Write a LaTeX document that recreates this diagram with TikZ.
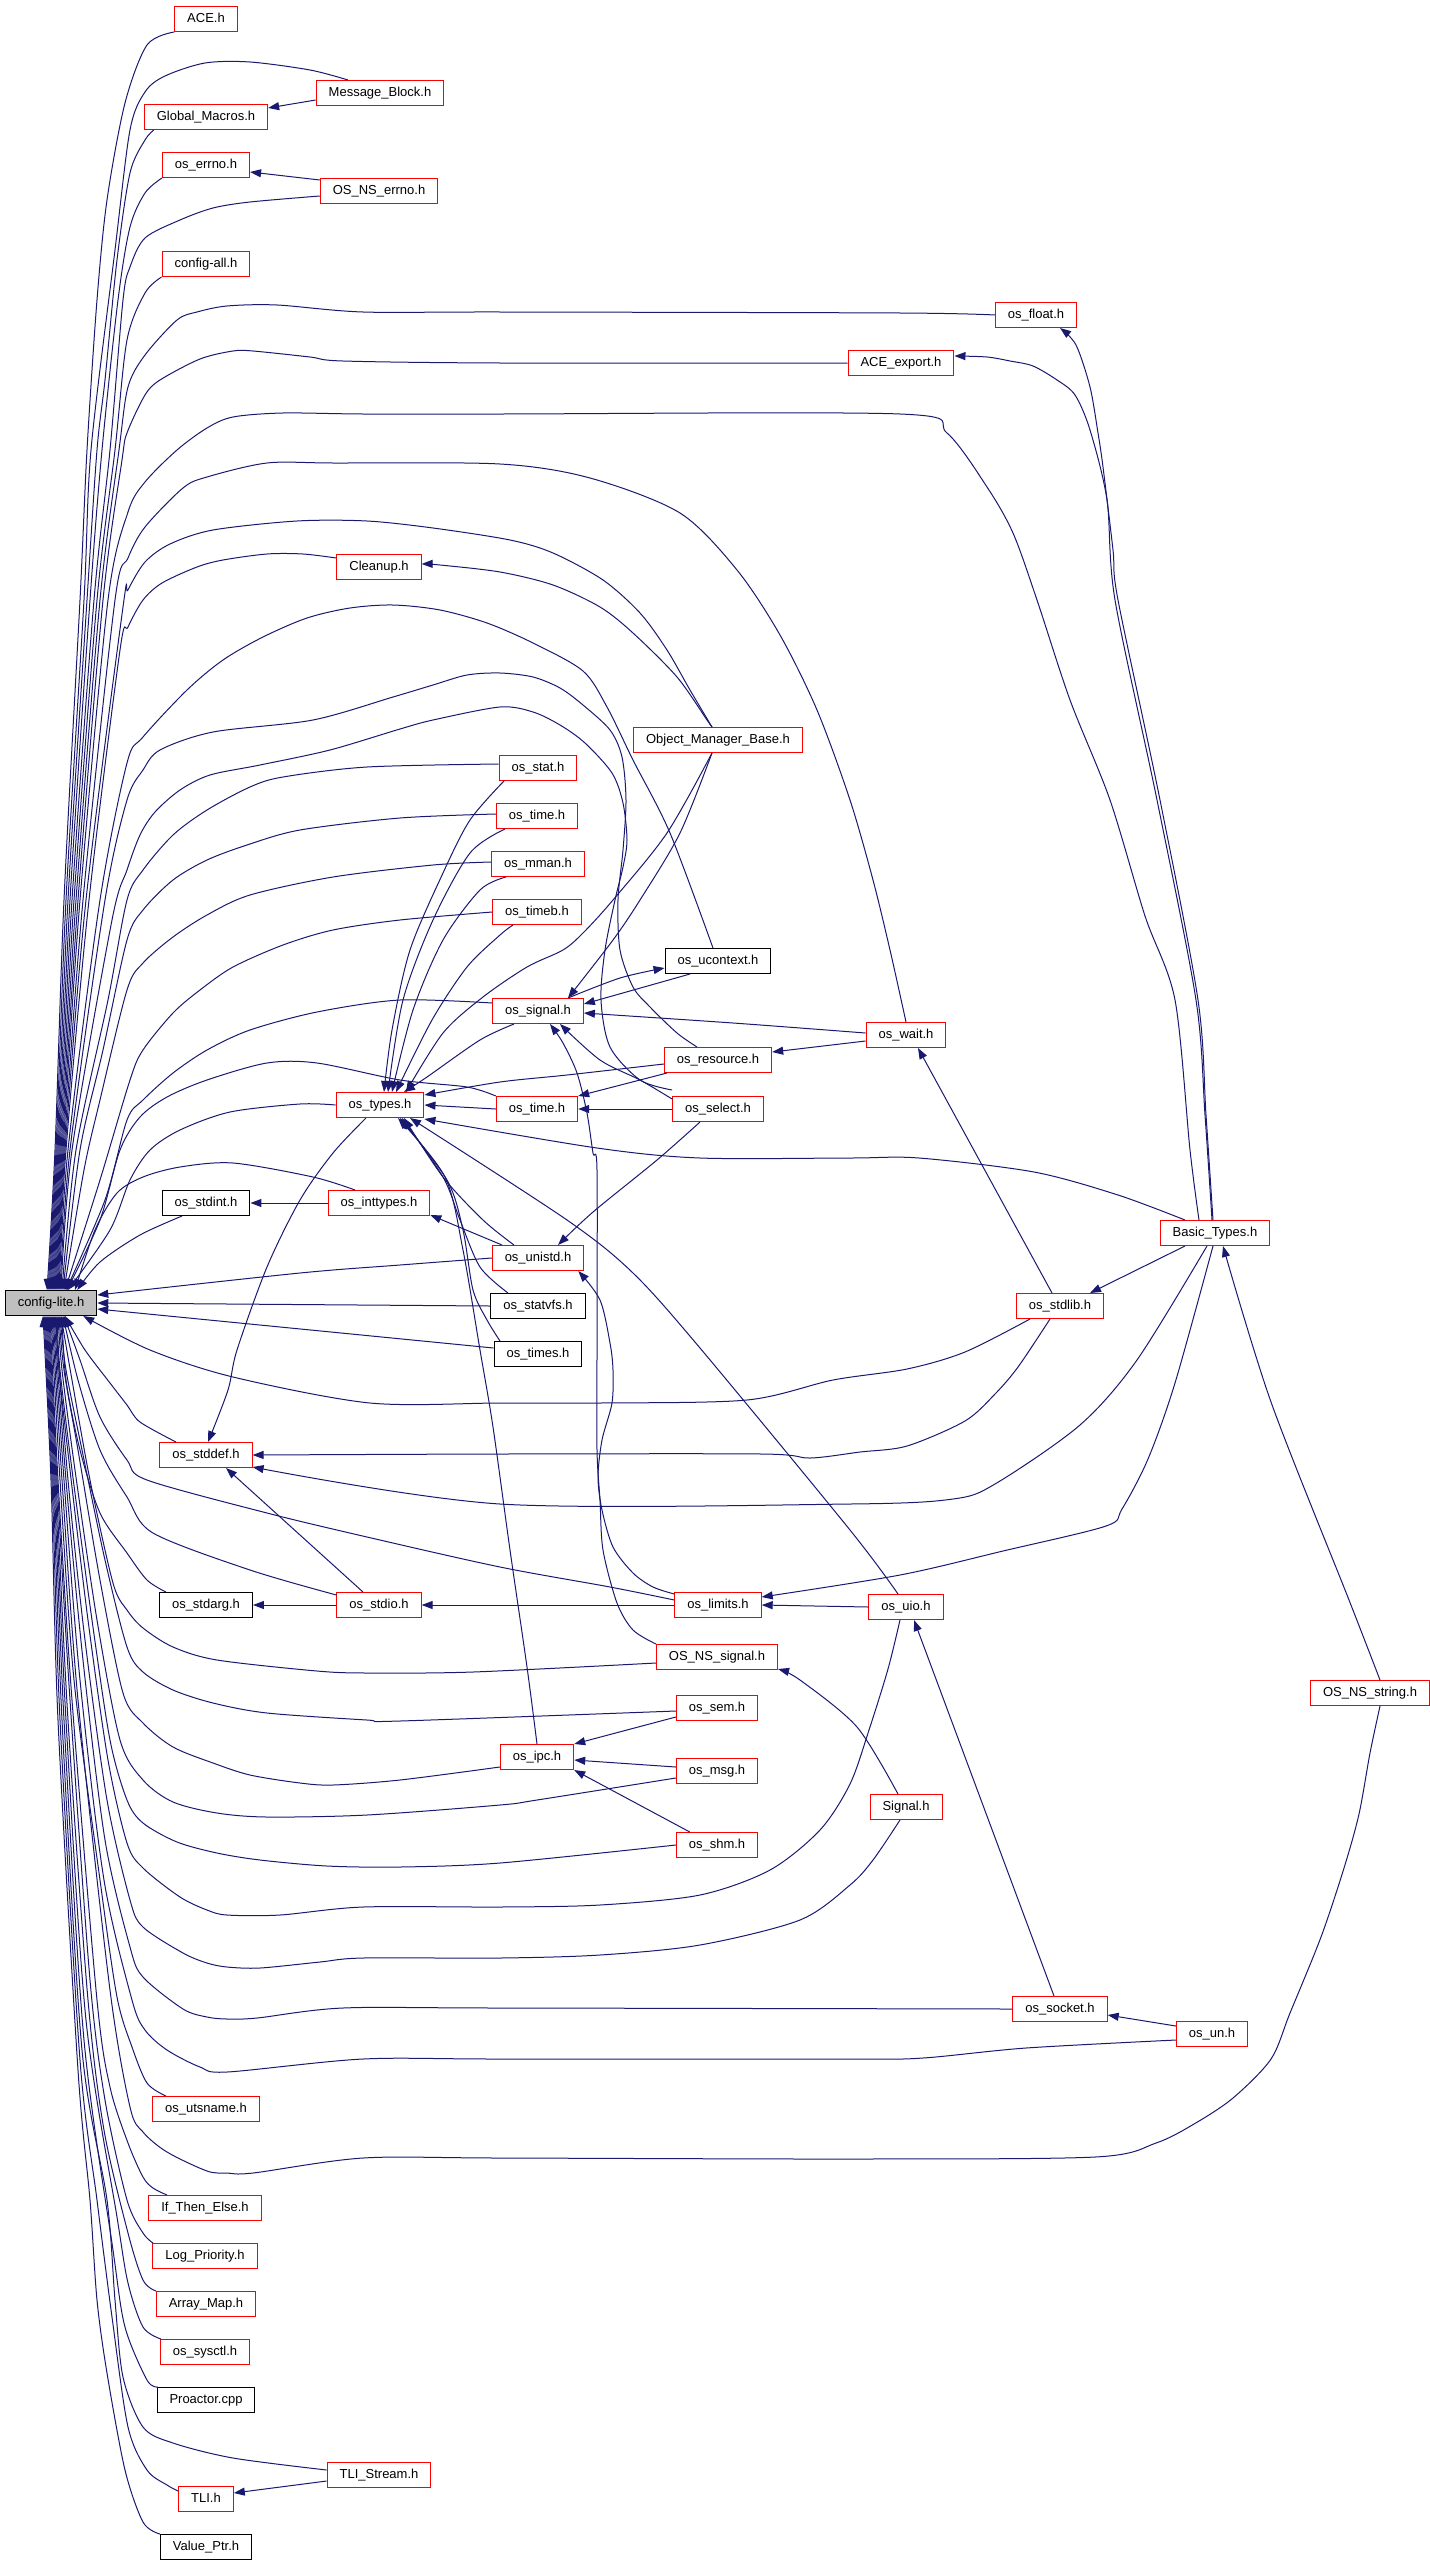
\documentclass[tikz,border=0pt]{standalone}
\usepackage{fontspec}
\setmainfont{Liberation Sans}
\usetikzlibrary{positioning,arrows.meta}

\definecolor{depblue}{HTML}{191970}
\definecolor{cfggray}{HTML}{BFBFBF}

\begin{document}
\begin{tikzpicture}[x=0.5pt,y=-0.5pt]
\useasboundingbox (0,0) rectangle (1429,2563);
% Draw include graph of config-lite.h
   \begin{scope}[>={Triangle[length=5.5pt,width=4pt]},
                  file/.style={rectangle,draw=red,line width=0.5pt,minimum height=12.5pt,
                     inner xsep=6.25pt,inner ysep=0pt,font=\fontsize{6.5}{7}\selectfont,
                     text height=4.9pt,text depth=1.4pt},
                  sysfile/.style={file,draw=black},
                  here/.style={file,draw=black,fill=cfggray},
                  dep/.style={->,draw=depblue,line width=0.5pt} ]
     \node [here]    (cfg)        at (51,1303)  {config-lite.h};
     \node [file]    (ace)        at (206,19)   {ACE.h};
     \node [file]    (msgblock)   at (380,93)   {Message\_Block.h};
     \node [file]    (globmacros) at (206,117)  {Global\_Macros.h};
     \node [file]    (errno)      at (206,165)  {os\_errno.h};
     \node [file]    (nserrno)    at (379,191)  {OS\_NS\_errno.h};
     \node [file]    (cfgall)     at (206,264)  {config-all.h};
     \node [file]    (float)      at (1036,315) {os\_float.h};
     \node [file]    (aceexport)  at (901,363)  {ACE\_export.h};
     \node [file]    (cleanup)    at (379,567)  {Cleanup.h};
     \node [file]    (omb)        at (718,740)  {Object\_Manager\_Base.h};
     \node [file]    (stat)       at (538,768)  {os\_stat.h};
     \node [file]    (time)       at (537,816)  {os\_time.h};
     \node [file]    (mman)       at (538,864)  {os\_mman.h};
     \node [file]    (timeb)      at (537,912)  {os\_timeb.h};
     \node [sysfile] (ucontext)   at (718,961)  {os\_ucontext.h};
     \node [file]    (signal)     at (538,1011) {os\_signal.h};
     \node [file]    (wait)       at (906,1035) {os\_wait.h};
     \node [file]    (resource)   at (718,1060) {os\_resource.h};
     \node [file]    (types)      at (380,1105) {os\_types.h};
     \node [file]    (time2)      at (537,1109) {os\_time.h};
     \node [file]    (select)     at (718,1109) {os\_select.h};
     \node [sysfile] (stdint)     at (206,1203) {os\_stdint.h};
     \node [file]    (inttypes)   at (379,1203) {os\_inttypes.h};
     \node [file]    (basic)      at (1215,1233) {Basic\_Types.h};
     \node [file]    (unistd)     at (538,1258) {os\_unistd.h};
     \node [file]    (stdlib)     at (1060,1306) {os\_stdlib.h};
     \node [sysfile] (statvfs)    at (538,1306) {os\_statvfs.h};
     \node [sysfile] (times)      at (538,1354) {os\_times.h};
     \node [file]    (stddef)     at (206,1455) {os\_stddef.h};
     \node [sysfile] (stdarg)     at (206,1605) {os\_stdarg.h};
     \node [file]    (stdio)      at (379,1605) {os\_stdio.h};
     \node [file]    (limits)     at (718,1605) {os\_limits.h};
     \node [file]    (uio)        at (906,1607) {os\_uio.h};
     \node [file]    (nssignal)   at (717,1657) {OS\_NS\_signal.h};
     \node [file]    (nsstring)   at (1370,1693) {OS\_NS\_string.h};
     \node [file]    (sem)        at (717,1708) {os\_sem.h};
     \node [file]    (ipc)        at (537,1757) {os\_ipc.h};
     \node [file]    (msg)        at (717,1771) {os\_msg.h};
     \node [file]    (sigh)       at (906,1807) {Signal.h};
     \node [file]    (shm)        at (717,1845) {os\_shm.h};
     \node [file]    (socket)     at (1060,2009) {os\_socket.h};
     \node [file]    (un)         at (1212,2034) {os\_un.h};
     \node [file]    (utsname)    at (206,2109) {os\_utsname.h};
     \node [file]    (ifte)       at (205,2208) {If\_Then\_Else.h};
     \node [file]    (logprio)    at (205,2256) {Log\_Priority.h};
     \node [file]    (arraymap)   at (206,2304) {Array\_Map.h};
     \node [file]    (sysctl)     at (205,2352) {os\_sysctl.h};
     \node [sysfile] (proactor)   at (206,2400) {Proactor.cpp};
     \node [file]    (tlistream)  at (379,2475) {TLI\_Stream.h};
     \node [file]    (tli)        at (206,2499) {TLI.h};
     \node [sysfile] (valueptr)   at (206,2547) {Value\_Ptr.h};

     % into config-lite.h from above
     \draw [dep] plot[smooth] coordinates {(ace.south west) (147,45) (125,103) (107,200) (97,300) (87,450) (80,600) (64,900) (55,1150) ([xshift=-2pt]cfg.north)};
     \draw [dep] plot[smooth] coordinates {([xshift=-16pt]msgblock.north) (310,70) (250,62) (205,63) (165,76) (145,92) (130,130) (115,250) (91,450) (84,600) (66,900) (56,1150) ([xshift=-1.5pt]cfg.north)};
     \draw [dep] plot[smooth] coordinates {([xshift=5pt]globmacros.south west) (145,140) (130,173) (117,260) (105,380) (97,450) (87,600) (68,900) (57,1150) ([xshift=-1pt]cfg.north)};
     \draw [dep] plot[smooth] coordinates {(errno.south west) (145,193) (130,227) (118,300) (102,450) (90,600) (70,900) (58,1150) ([xshift=-0.5pt]cfg.north)};
     \draw [dep] plot[smooth] coordinates {([yshift=-2.5pt]nserrno.west) (250,202) (213,208) (180,220) (145,238) (130,267) (123,300) (110,450) (94,600) (72,900) (59,1150) (cfg.north)};
     \draw [dep] plot[smooth] coordinates {(cfgall.south west) (145,293) (127,340) (115,450) (97,600) (74,900) (60,1150) ([xshift=0.5pt]cfg.north)};
     \draw [dep] plot[smooth] coordinates {(float.west) (900,313) (500,312) (363,312) (277,305) (227,306) (197,312) (177,320) (145,355) (128,387) (119,450) (100,600) (76,900) (61,1150) ([xshift=1pt]cfg.north)};
     \draw [dep] plot[smooth] coordinates {(aceexport.west) (500,363) (343,361) (310,357) (253,351) (233,351) (200,359) (160,380) (145,395) (127,433) (122,460) (103,600) (78,900) (62,1150) ([xshift=1.5pt]cfg.north)};
     \draw [dep] plot[smooth] coordinates {([xshift=-8pt]basic.north) (1190,1150) (1175,1000) (1145,916) (1110,800) (1070,700) (1037,600) (1013,533) (987,487) (947,433) (900,414) (500,414) (363,414) (283,413) (233,417) (207,428) (177,450) (145,482) (128,512) (108,600) (80,900) (63,1150) ([xshift=2pt]cfg.north)};
     \draw [dep] plot[smooth] coordinates {(wait.north) (890,950) (873,880) (850,800) (817,710) (780,635) (737,570) (680,513) (590,478) (500,464) (333,463) (267,463) (207,477) (183,488) (145,527) (128,558) (115,600) (83,900) (64,1150) ([xshift=2.5pt]cfg.north)};
     \draw [dep] plot[smooth] coordinates {([xshift=-3pt]omb.north) (690,690) (667,650) (640,613) (603,580) (553,553) (510,540) (433,528) (367,521) (297,521) (213,530) (170,544) (145,562) (128,590) (123,607) (86,900) (65,1150) ([xshift=3pt]cfg.north)};
     \draw [dep] plot[smooth] coordinates {([yshift=4.5pt]cleanup.west) (303,554) (267,554) (223,560) (197,567) (162,583) (143,600) (128,627) (120,650) (89,900) (66,1150) ([xshift=3.5pt]cfg.north)};
     \draw [dep] plot[smooth] coordinates {([xshift=-2.5pt]ucontext.north) (670,833) (633,760) (607,707) (583,671) (533,643) (487,623) (440,610) (393,605) (350,608) (307,618) (263,637) (223,660) (187,690) (143,737) (127,763) (100,900) (68,1150) ([xshift=4pt]cfg.north)};
     \draw [dep] plot[smooth] coordinates {([xshift=-10.5pt]resource.north) (677,1033) (650,1007) (633,987) (620,950) (618,900) (623,850) (626,800) (622,757) (610,730) (583,705) (560,688) (533,677) (500,673) (467,675) (433,685) (393,697) (313,720) (213,732) (160,750) (143,770) (127,800) (105,900) (70,1150) ([xshift=4.5pt]cfg.north)};
     \draw [dep] plot[smooth] coordinates {([yshift=3pt]select.north west) (640,1080) (610,1047) (601,1000) (605,950) (615,900) (623,867) (627,840) (623,803) (612,773) (585,743) (560,725) (533,712) (500,707) (433,720) (400,729) (330,750) (260,765) (210,775) (180,790) (155,812) (140,835) (127,870) (112,920) (72,1150) ([xshift=5pt]cfg.north)};
     \draw [dep] plot[smooth] coordinates {([yshift=2pt]stat.west) (367,767) (283,777) (250,787) (207,810) (173,835) (143,870) (127,900) (108,1000) (76,1150) ([xshift=5.5pt]cfg.north)};
     \draw [dep] plot[smooth] coordinates {([yshift=1pt]time.west) (400,818) (300,830) (247,845) (207,860) (173,880) (143,910) (127,940) (103,1050) (80,1150) ([xshift=6pt]cfg.north)};
     \draw [dep] plot[smooth] coordinates {([yshift=1pt]mman.west) (433,865) (333,877) (250,895) (207,915) (173,937) (143,963) (127,990) (100,1100) (84,1170) ([xshift=6.5pt]cfg.north)};
     \draw [dep] plot[smooth] coordinates {(timeb.west) (400,920) (333,930) (283,945) (233,967) (200,990) (173,1013) (143,1050) (130,1080) (100,1180) ([xshift=7pt]cfg.north)};
     \draw [dep] plot[smooth] coordinates {([yshift=4pt]signal.west) (400,1000) (317,1012) (250,1030) (207,1050) (173,1073) (143,1100) (127,1120) (105,1200) ([xshift=7.5pt]cfg.north)};
     \draw [dep] plot[smooth] coordinates {(time2.north west) (467,1087) (400,1080) (317,1063) (267,1063) (207,1080) (167,1097) (140,1117) (120,1150) (100,1220) ([xshift=8pt]cfg.north)};
     \draw [dep] plot[smooth] coordinates {(types.west) (300,1104) (230,1112) (180,1130) (150,1150) (130,1180) (110,1230) ([xshift=8.5pt]cfg.north)};
     \draw [dep] plot[smooth] coordinates {([xshift=-12pt]inttypes.north) (313,1177) (233,1163) (180,1167) (143,1177) (117,1193) (95,1230) ([xshift=12pt]cfg.north)};
     \draw [dep] plot[smooth] coordinates {([xshift=-12pt]stdint.south) (140,1235) (100,1262) ([xshift=-10pt]cfg.north east)};
     % into config-lite.h from the right
     \draw [dep] plot[smooth] coordinates {(unistd.west) (400,1265) (300,1273) ([yshift=4pt]cfg.east)};
     \draw [dep] (statvfs.west) -- (cfg.east);
     \draw [dep] ([yshift=3pt]times.west) -- ([yshift=-3pt]cfg.east);
     \draw [dep] plot[smooth] coordinates {([xshift=-15pt]stdlib.south) (965,1352) (907,1369) (833,1380) (747,1400) (600,1403) (500,1403) (370,1403) (233,1377) (150,1350) ([xshift=-7pt]cfg.south east)};
     % into config-lite.h from below
     \draw [dep] plot[smooth] coordinates {([xshift=-15pt]stddef.north) (140,1422) (127,1405) (110,1383) (85,1350) ([xshift=7pt]cfg.south)};
     \draw [dep] plot[smooth] coordinates {([yshift=-4pt]limits.north west) (610,1587) (500,1567) (367,1537) (267,1513) (147,1480) (127,1460) (100,1417) (80,1360) ([xshift=6.5pt]cfg.south)};
     \draw [dep] plot[smooth] coordinates {([yshift=-1.5pt]stdio.north west) (250,1570) (153,1533) (127,1497) (100,1450) (78,1380) ([xshift=6pt]cfg.south)};
     \draw [dep] plot[smooth] coordinates {([xshift=-20pt]stdarg.north) (147,1580) (127,1553) (100,1513) (80,1450) (66,1380) ([xshift=5.5pt]cfg.south)};
     \draw [dep] plot[smooth] coordinates {([yshift=-3pt]nssignal.west) (473,1672) (367,1673) (317,1671) (217,1660) (173,1647) (143,1628) (127,1610) (113,1583) (90,1480) (72,1380) ([xshift=5pt]cfg.south)};
     \draw [dep] plot[smooth] coordinates {([yshift=-1.5pt]sem.west) (400,1721) (367,1720) (267,1713) (213,1703) (173,1690) (143,1672) (127,1647) (105,1560) (82,1450) (66,1370) ([xshift=4.5pt]cfg.south)};
     \draw [dep] plot[smooth] coordinates {([yshift=-5pt]ipc.west) (400,1780) (333,1785) (300,1783) (250,1775) (213,1763) (173,1747) (143,1723) (123,1693) (100,1580) (78,1450) (64,1370) ([xshift=4pt]cfg.south)};
     \draw [dep] plot[smooth] coordinates {([yshift=-3.5pt]msg.west) (537,1800) (500,1805) (367,1815) (267,1817) (217,1813) (173,1802) (143,1780) (120,1740) (97,1620) (75,1470) (62,1370) ([xshift=3.5pt]cfg.south)};
     \draw [dep] plot[smooth] coordinates {(shm.west) (500,1863) (400,1867) (327,1866) (260,1860) (217,1853) (177,1842) (143,1823) (127,1800) (110,1740) (92,1620) (72,1470) (60,1370) ([xshift=3pt]cfg.south)};
     \draw [dep] plot[smooth] coordinates {([xshift=-3pt]uio.south) (888,1669) (869,1730) (850,1784) (820,1830) (770,1870) (700,1895) (600,1905) (500,1907) (363,1907) (280,1915) (227,1915) (207,1910) (180,1897) (143,1868) (127,1843) (108,1760) (88,1620) (70,1470) (59,1370) ([xshift=2.5pt]cfg.south)};
     \draw [dep] plot[smooth] coordinates {([xshift=-3pt]sigh.south) (873,1860) (850,1885) (800,1920) (700,1945) (600,1955) (500,1958) (363,1958) (320,1962) (260,1968) (227,1967) (207,1963) (183,1953) (143,1927) (130,1900) (107,1800) (85,1640) (68,1480) ([xshift=2pt]cfg.south)};
     \draw [dep] plot[smooth] coordinates {(socket.west) (500,2008) (343,2008) (257,2018) (227,2019) (207,2017) (183,2009) (143,1977) (130,1947) (105,1840) (83,1660) (66,1480) ([xshift=1.5pt]cfg.south)};
     \draw [dep] plot[smooth] coordinates {([yshift=-3pt]un.west) (1026,2048) (923,2058) (850,2059) (500,2059) (363,2059) (227,2072) (200,2067) (167,2050) (145,2030) (132,2000) (104,1880) (80,1680) (64,1480) ([xshift=1pt]cfg.south)};
     \draw [dep] plot[smooth] coordinates {([xshift=5pt]nsstring.south) (1370,1753) (1359,1814) (1344,1868) (1321,1937) (1290,2013) (1271,2059) (1233,2098) (1194,2124) (1156,2143) (1095,2157) (850,2159) (500,2158) (363,2158) (253,2173) (227,2173) (207,2171) (167,2152) (143,2132) (130,2107) (110,1990) (78,1700) (62,1480) ([xshift=0.5pt]cfg.south)};
     \draw [dep] plot[smooth] coordinates {([xshift=-20pt]utsname.north) (147,2083) (132,2047) (117,1997) (100,1880) (74,1680) (60,1480) (cfg.south)};
     \draw [dep] plot[smooth] coordinates {([xshift=-19pt]ifte.north) (153,2188) (143,2177) (128,2143) (110,2087) (97,2000) (72,1700) (58,1480) ([xshift=-0.5pt]cfg.south)};
     \draw [dep] plot[smooth] coordinates {([xshift=-26pt]logprio.north) (143,2233) (127,2200) (105,2100) (90,1980) (70,1700) (57,1480) ([xshift=-1pt]cfg.south)};
     \draw [dep] plot[smooth] coordinates {([xshift=-25pt]arraymap.north) (143,2280) (128,2233) (104,2130) (88,2000) (68,1720) (56,1480) ([xshift=-1.5pt]cfg.south)};
     \draw [dep] plot[smooth] coordinates {([xshift=-22pt]sysctl.north) (143,2327) (128,2283) (117,2217) (86,2020) (66,1720) (55,1480) ([xshift=-2pt]cfg.south)};
     \draw [dep] plot[smooth] coordinates {([xshift=-24pt]proactor.north) (147,2380) (125,2327) (113,2250) (84,2040) (64,1720) (54,1480) ([xshift=-2.5pt]cfg.south)};
     \draw [dep] plot[smooth] coordinates {([yshift=2.5pt]tlistream.west) (233,2458) (173,2443) (143,2427) (123,2377) (115,2300) (107,2200) (82,2050) (62,1720) (53,1480) ([xshift=-3pt]cfg.south)};
     \draw [dep] plot[smooth] coordinates {([yshift=4pt]tli.west) (167,2485) (147,2470) (128,2427) (112,2317) (97,2200) (80,2060) (60,1720) (52,1480) ([xshift=-3.5pt]cfg.south)};
     \draw [dep] plot[smooth] coordinates {(valueptr.north west) (143,2522) (125,2470) (107,2373) (97,2300) (90,2200) (78,2070) (58,1720) (51,1480) ([xshift=-4pt]cfg.south)};

     % between the other files
     \draw [dep] ([yshift=-3.5pt]msgblock.west) -- ([yshift=4.5pt]globmacros.east);
     \draw [dep] ([yshift=5.5pt]nserrno.west) -- ([yshift=-3.5pt]errno.east);
     \draw [dep] plot[smooth] coordinates {([xshift=-1pt]basic.north) (1206,1115) (1198,1000) (1160,800) (1118,600) (1113,550) (1103,467) (1098,433) (1090,387) (1076,345) ([xshift=12pt]float.south)};
     \draw [dep] plot[smooth] coordinates {([xshift=-1.5pt]basic.north) (1205,1115) (1196,1000) (1157,800) (1115,600) (1107,500) (1090,430) (1075,395) (1057,380) (1033,366) (1010,361) (987,357) ([yshift=3.5pt]aceexport.east)};
     \draw [dep] plot[smooth] coordinates {([xshift=-15pt]basic.north) (1118,1195) (1034,1172) (919,1158) (850,1158) (700,1158) (597,1148) ([yshift=-7pt]types.east)};
     \draw [dep] ([xshift=-15pt]basic.south) -- ([xshift=15pt]stdlib.north);
     \draw [dep] plot[smooth] coordinates {([xshift=-4pt]basic.south) (1137,1360) (1080,1425) (995,1484) (953,1499) (850,1504) (500,1504) ([yshift=-6pt]stddef.east)};
     \draw [dep] plot[smooth] coordinates {([xshift=-1pt]basic.south) (1175,1383) (1148,1459) (1122,1509) (1106,1526) (1003,1551) (900,1575) ([yshift=4pt]limits.east)};
     \draw [dep] plot[smooth] coordinates {([xshift=5pt]nsstring.north) (1349,1600) (1271,1402) ([xshift=4pt]basic.south)};
     \draw [dep] ([xshift=-4pt]stdlib.north) -- ([xshift=6pt]wait.south);
     \draw [dep] plot[smooth] coordinates {([xshift=-5pt]stdlib.south) (1018,1367) (995,1394) (965,1421) (907,1446) (860,1452) (810,1458) (762,1454) (500,1454) (stddef.east)};
     \draw [dep] plot[smooth] coordinates {([yshift=1pt]wait.west) (733,1023) ([yshift=-1pt]signal.east)};
     \draw [dep] ([yshift=-3pt]wait.west) -- ([yshift=4pt]resource.east);
     \draw [dep] plot[smooth] coordinates {([yshift=-2pt]resource.west) (567,1075) (500,1082) ([yshift=5pt]types.east)};
     \draw [dep] ([xshift=-25.5pt]resource.south) -- (time2.north east);
     \draw [dep] (select.west) -- (time2.east);
     \draw [dep] plot[smooth] coordinates {([yshift=5pt]select.west) (640,1080) (600,1060) ([xshift=11pt]signal.south)};
     \draw [dep] plot[smooth] coordinates {([xshift=-9pt]select.south) (657,1160) (593,1212) ([xshift=10pt]unistd.north)};
     \draw [dep] ([xshift=-14pt]ucontext.south) -- ([yshift=3.5pt]signal.east);
     \draw [dep] plot[smooth] coordinates {([xshift=15pt]signal.north) (620,978) ([yshift=-3.5pt]ucontext.west)};
     \draw [dep] plot[smooth] coordinates {([xshift=-3pt]omb.north) (707,720) (677,677) (633,633) (600,607) (553,585) (500,572) (440,565) ([yshift=1.5pt]cleanup.east)};
     \draw [dep] plot[smooth] coordinates {([xshift=-3pt]omb.south) (680,833) (640,900) (613,940) ([xshift=15pt]signal.north)};
     \draw [dep] plot[smooth] coordinates {([xshift=-3pt]omb.south) (667,833) (613,900) (583,933) (563,950) (527,967) (483,997) (443,1033) ([xshift=13pt]types.north)};
     \draw [dep] plot[smooth] coordinates {([xshift=-17pt]stat.south) (470,820) (443,873) (410,950) (392,1030) ([xshift=2pt]types.north)};
     \draw [dep] plot[smooth] coordinates {([xshift=-16pt]time.south) (470,853) (433,920) (403,1000) ([xshift=4pt]types.north)};
     \draw [dep] plot[smooth] coordinates {([xshift=-16pt]mman.south) (480,890) (443,940) (413,1010) ([xshift=6pt]types.north)};
     \draw [dep] plot[smooth] coordinates {([xshift=-12pt]timeb.south) (500,935) (467,967) (432,1020) ([xshift=8pt]types.north)};
     \draw [dep] plot[smooth] coordinates {([xshift=-12pt]signal.south) (480,1040) (427,1077) ([xshift=12pt]types.north)};
     \draw [dep] (time2.west) -- (types.east);
     \draw [dep] plot[smooth] coordinates {([xshift=-7pt]types.south) (333,1153) (300,1200) (267,1267) (237,1350) (228,1390) ([xshift=1pt]stddef.north)};
     \draw [dep] (inttypes.west) -- (stdint.east);
     \draw [dep] ([xshift=-18pt]unistd.north) -- ([yshift=-6pt]inttypes.east);
     \draw [dep] plot[smooth] coordinates {([xshift=-12pt]unistd.north) (483,1220) (443,1177) ([xshift=12pt]types.south)};
     \draw [dep] plot[smooth] coordinates {([xshift=-15pt]statvfs.north) (480,1267) (460,1220) (443,1177) ([xshift=11pt]types.south)};
     \draw [dep] plot[smooth] coordinates {([xshift=-19pt]times.north) (487,1320) (473,1290) (463,1230) (447,1180) ([xshift=10pt]types.south)};
     \draw [dep] plot[smooth] coordinates {(ipc.north) (527,1667) (510,1550) (493,1427) (480,1350) (463,1250) (445,1177) ([xshift=9pt]types.south)};
     \draw [dep] plot[smooth] coordinates {([xshift=-4pt]uio.north) (850,1530) (700,1348) (633,1273) (567,1220) ([xshift=15pt]types.south)};
     \draw [dep] (uio.west) -- (limits.east);
     \draw [dep] (stdio.west) -- (stdarg.east);
     \draw [dep] ([xshift=-8pt]stdio.north) -- ([xshift=10pt]stddef.south);
     \draw [dep] (limits.west) -- (stdio.east);
     \draw [dep] plot[smooth] coordinates {([yshift=-1pt]limits.north west) (653,1587) (633,1573) (613,1547) (602,1510) (598,1477) (602,1440) (612,1403) (613,1370) (610,1343) (600,1300) ([xshift=-3pt]unistd.south east)};
     \draw [dep] plot[smooth] coordinates {(nssignal.north west) (633,1630) (617,1603) (603,1550) (600,1500) (597,1450) (597,1350) (597,1170) (593,1153) (587,1113) (577,1073) (563,1043) ([xshift=6pt]signal.south)};
     \draw [dep] plot[smooth] coordinates {([xshift=-4pt]sigh.north) (857,1727) (800,1680) ([yshift=-6pt]nssignal.east)};
     \draw [dep] ([yshift=-4.5pt]sem.west) -- (ipc.north east);
     \draw [dep] ([yshift=2pt]msg.west) -- ([yshift=-1.5pt]ipc.east);
     \draw [dep] ([xshift=7pt]shm.north west) -- (ipc.south east);
     \draw [dep] ([xshift=-3pt]socket.north) -- ([xshift=4pt]uio.south);
     \draw [dep] ([yshift=4pt]un.west) -- ([yshift=-3pt]socket.east);
     \draw [dep] ([yshift=-3pt]tlistream.west) -- ([yshift=3pt]tli.east);
   \end{scope}
\end{tikzpicture}
\end{document}
